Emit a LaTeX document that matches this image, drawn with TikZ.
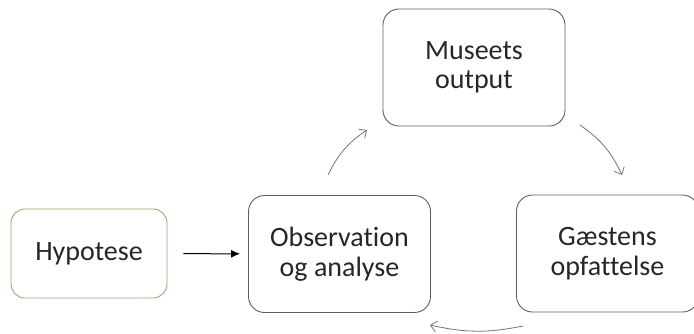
\documentclass[tikz,border=0pt]{standalone}
\usepackage{fontspec}
\setmainfont[Ligatures=NoCommon]{Carlito}
\usetikzlibrary{arrows.meta}
\definecolor{boxgray}{RGB}{95,95,95}
\definecolor{hypgreen}{RGB}{140,176,108}
\definecolor{arrgray}{RGB}{115,115,115}

\begin{document}
\begin{tikzpicture}[x=1pt,y=-1pt,
  box/.style={draw=boxgray, rounded corners=16pt, line width=0.9pt,
    minimum width=182pt, minimum height=117pt, align=center,
    font=\fontsize{28}{29.5}\selectfont, text=black!85},
  hypbox/.style={box, draw=hypgreen, rounded corners=14pt,
    minimum width=156pt, minimum height=89pt},
  cycle/.style={draw=arrgray, line width=0.8pt, -{Straight Barb[length=6pt,width=11pt]}}]
\useasboundingbox (0,0) rectangle (694,333);

\node[hypbox] (hyp)    at (89,253.5)   {Hypotese};
\node[box]    (obs)    at (339.5,254)  {Observation\\og analyse};
\node[box]    (museum) at (474,67.5)   {Museets\\output};
\node[box]    (guest)  at (607.5,253.5){G\ae stens\\opfattelse};

% ends of the cycle arrows
\coordinate (up1)  at (328,175);
\coordinate (up2)  at (367,130);
\coordinate (rt1)  at (580,125);
\coordinate (rt2)  at (622,175);
\coordinate (bt1)  at (523,326);
\coordinate (bt2)  at (430,325);

\draw[line width=1pt, -{Latex[length=9pt,width=8pt]}, shorten <=16pt, shorten >=8pt] (hyp) -- (obs);
\draw[cycle] (up1) to[bend left=15] (up2);
\draw[cycle] (rt1) to[bend left=15] (rt2);
\draw[cycle] (bt1) to[bend left=12] (bt2);

\end{tikzpicture}
\end{document}
